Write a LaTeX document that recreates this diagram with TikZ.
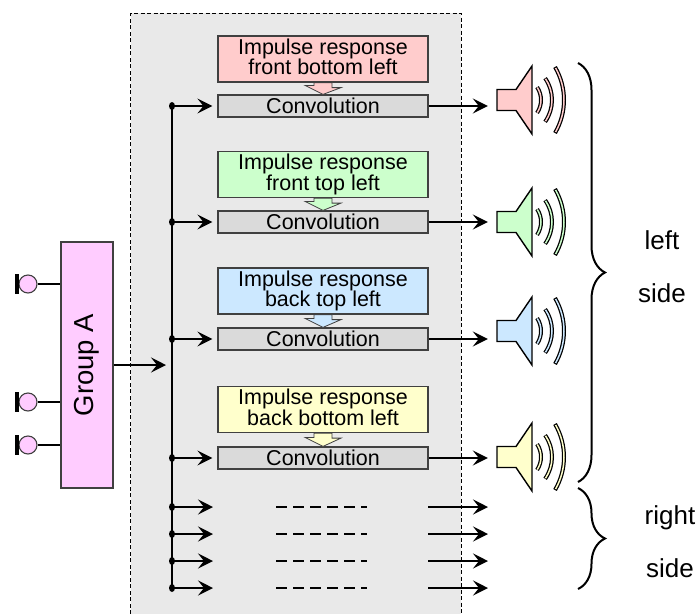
\documentclass[tikz,border=0pt]{standalone}
\usepackage{fontspec}
\setmainfont{Liberation Sans}
\usetikzlibrary{arrows.meta,decorations.pathreplacing}
\definecolor{bggray}{HTML}{E9E9E9}
\definecolor{convgray}{HTML}{DADADA}
\definecolor{boxline}{HTML}{404040}
\definecolor{cpink}{HTML}{FFCCCC}
\definecolor{cgreen}{HTML}{CCFFCC}
\definecolor{cblue}{HTML}{CCE8FF}
\definecolor{cyellow}{HTML}{FFFFCC}
\definecolor{cmagenta}{HTML}{FFCCFF}
\newcommand\drawspeaker[3]{%
  \node[draw=none, minimum width=19pt, minimum height=21pt, inner sep=0pt] (#1) at (506.5,#2) {};
  \filldraw[fill=#3, draw=black, line width=1.4pt, line join=miter]
    (497,#2-10.5) -- (516,#2-10.5) -- (532,#2-34) -- (532,#2+34) -- (516,#2+10.5) -- (497,#2+10.5) -- cycle;
  \foreach \rr/\cx/\tt in {23/518/34, 38/514/35, 65/499/30.5}{
    \draw[line width=4pt, black] ([shift={(-\tt:\rr pt)}]\cx,#2) arc[start angle=-\tt, end angle=\tt, radius=\rr pt];
    \draw[line width=1.5pt, #3] ([shift={(-\tt+1:\rr pt)}]\cx,#2) arc[start angle=-\tt+1, end angle=\tt-1, radius=\rr pt];
  }
}
\begin{document}
\begin{tikzpicture}[x=1pt,y=-1pt,
  boxfont/.style={font={\fontsize{21.5}{20.3}\selectfont\lineskiplimit=-50pt}},
  impbox/.style={draw=boxline, line width=1.2pt, minimum width=210pt, minimum height=46pt, inner sep=0pt, align=center, boxfont},
  convbox/.style={draw=boxline, line width=1.2pt, fill=convgray, minimum width=210pt, minimum height=22pt, inner sep=0pt, boxfont},
  arr/.style={line width=1.9pt, -{Stealth[length=15pt,width=15pt,inset=6pt]}},
  blockarrow/.style={draw=boxline, line width=0.8pt},
  plug/.style={circle, draw=boxline, fill=cmagenta, minimum size=18pt, inner sep=0pt, line width=1.1pt},
  lbl/.style={font={\fontsize{26}{30}\selectfont}, anchor=base, inner sep=0pt},
  dashline/.style={line width=1.3pt, dash pattern=on 11pt off 6pt},
  bracestyle/.style={line width=2pt, decorate, decoration={brace, amplitude=27pt}},
  jdot/.style={fill=black}
]
\useasboundingbox (0,0) rectangle (697,614);
% background dashed region
\fill[bggray] (130.5,13) rectangle (461,614);
\draw[line width=1pt, dash pattern=on 4pt off 2.5pt] (130.5,614) -- (130.5,13) -- (461,13) -- (461,614);

% impulse and convolution boxes
\node[impbox, fill=cpink] (imp1) at (323,59) {Impulse response\\front bottom left\vphantom{p}};
\node[convbox] (conv1) at (323,106) {Convolution};
\node[impbox, fill=cgreen] (imp2) at (323,174.5) {Impulse response\\front top left\vphantom{p}};
\node[convbox] (conv2) at (323,222) {Convolution};
\node[impbox, fill=cblue] (imp3) at (323,291) {Impulse response\\back top left\vphantom{p}};
\node[convbox] (conv3) at (323,339) {Convolution};
\node[impbox, fill=cyellow] (imp4) at (323,409.5) {Impulse response\\back bottom left\vphantom{p}};
\node[convbox] (conv4) at (323,458) {Convolution};

% small block arrows
\foreach \i/\c in {1/cpink,2/cgreen,3/cblue,4/cyellow}{
  \filldraw[blockarrow, fill=\c] ([xshift=-9pt]imp\i.south) -- ([xshift=9pt]imp\i.south)
    -- ++(0,5) -- ++(9,0) -- (conv\i.north) -- ++(-18,-9) -- ++(9,0) -- cycle;
}

% speakers
\drawspeaker{spk1}{100}{cpink}
\drawspeaker{spk2}{222}{cgreen}
\drawspeaker{spk3}{331}{cblue}
\drawspeaker{spk4}{457}{cyellow}

% trunk
\coordinate (ttop) at (172,106);
\coordinate (tbot) at (172,588);
\draw[line width=2.3pt] (ttop) -- (tbot);

\foreach \i in {1,2,3,4}{
  \coordinate (j\i) at (ttop |- conv\i.west);
  \fill[jdot] (j\i) ellipse [x radius=3pt, y radius=4pt];
  \draw[arr, shorten >=5pt] (j\i) -- (conv\i.west);
  \draw[arr, shorten >=9pt] (conv\i.east) -- (conv\i.east -| spk\i.west);
}

% right side rows
\foreach \i/\yy in {1/507,2/534,3/561,4/588}{
  \coordinate (b\i) at (172,\yy);
  \coordinate (bt\i) at (218,\yy);
  \coordinate (ds\i) at (276,\yy);
  \coordinate (de\i) at (367,\yy);
  \coordinate (os\i) at (428,\yy);
  \coordinate (oe\i) at (488,\yy);
  \fill[jdot] (b\i) ellipse [x radius=3pt, y radius=4pt];
  \draw[arr, shorten >=5pt] (b\i) -- (bt\i);
  \draw[dashline] (ds\i) -- (de\i);
  \draw[arr] (os\i) -- (oe\i);
}

% group A
\node[draw=boxline, line width=1.2pt, fill=cmagenta, minimum width=52pt, minimum height=246pt, inner sep=0pt,
      font={\fontsize{27.5}{30}\selectfont}] (grp) at (87,365) {\rotatebox{90}{Group A}};
\coordinate (gin) at (172,365);
\draw[arr, shorten >=6pt] (grp.east) -- (gin);

\foreach \i/\yy in {1/284,2/402,3/445}{
  \node[plug] (p\i) at (28,\yy) {};
  \draw[line width=2pt] (p\i.east) -- (p\i -| grp.west);
  \draw[line width=3.8pt] ([xshift=-1.7pt,yshift=10pt]p\i.west) -- ([xshift=-1.7pt,yshift=-10pt]p\i.west);
}

% braces
\coordinate (lbs) at (578,63);
\coordinate (lbe) at (578,482);
\coordinate (rbs) at (578,488);
\coordinate (rbe) at (578,589);
\draw[bracestyle] (lbs) -- (lbe);
\draw[bracestyle] (rbs) -- (rbe);

\node[lbl] (lt1) at (662,249) {left};
\node[lbl] (lt2) at (662,302) {side};
\node[lbl] (rt1) at (670,524) {right};
\node[lbl] (rt2) at (670,577) {side};
\end{tikzpicture}
\end{document}
